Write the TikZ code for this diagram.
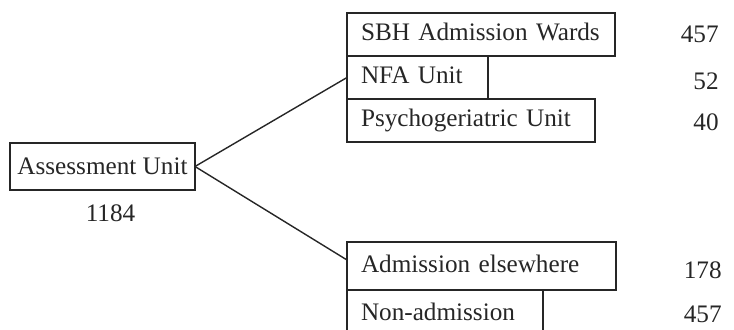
\documentclass[tikz,border=0pt]{standalone}
\usepackage{fontspec}
\setmainfont{Liberation Serif}
\usetikzlibrary{positioning}
\tikzset{
  unitbox/.style={draw, rectangle, line width=0.9pt, outer sep=0pt,
    inner xsep=7pt, inner ysep=0pt, text width=#1, align=left,
    text height=9pt, text depth=2.5pt, minimum height=21.5pt},
  mainbox/.style={draw, rectangle, line width=0.9pt, outer sep=0pt,
    inner xsep=1pt, minimum width=92.5pt, minimum height=23.5pt},
  count/.style={anchor=east, inner sep=0pt},
  link/.style={line width=0.7pt},
}

\begin{document}
\begin{tikzpicture}[x=0.5pt, y=-0.5pt, node distance=0pt and 0pt,
    font=\fontsize{12.6}{15}\selectfont, color=black!85]
  \useasboundingbox (0,0) rectangle (734,330);
  \clip (0,0) rectangle (734,330);

  % source
  \node[mainbox] (assess) at (102.5,166.5) {Assessment Unit};
  \node[below=4pt of assess, xshift=4pt] (total) {1184};

  % admitted
  \node[unitbox=120pt, anchor=north west] (sbh) at (347,13) {SBH Admission Wards};
  \node[unitbox=56.5pt, below=of sbh.south west, anchor=north west] (nfa) {NFA Unit};
  \node[unitbox=110pt, below=of nfa.south west, anchor=north west] (psycho) {Psychogeriatric Unit};

  % not admitted here
  \node[unitbox=120.5pt, minimum height=24pt, anchor=north west] (elsewhere) at (347,242) {Admission elsewhere};
  \node[unitbox=84pt, minimum height=24pt, below=of elsewhere.south west, anchor=north west] (nonadm) {Non-admission};

  % counts
  \coordinate (colA) at (719,0);
  \coordinate (colB) at (722,0);
  \node[count] (nsbh) at (sbh.east -| colA) {457};
  \node[count, yshift=-2pt] (nnfa) at (nfa.east -| colA) {52};
  \node[count, yshift=-1pt] (npsycho) at (psycho.east -| colA) {40};
  \node[count, yshift=-2pt] (nelsewhere) at (elsewhere.east -| colB) {178};
  \node[count] (nnonadm) at (nonadm.east -| colB) {457};

  \draw[link] (assess.east) -- (nfa.west);
  \draw[link] (assess.east) -- ([yshift=3pt]elsewhere.west);

\end{tikzpicture}
\end{document}
